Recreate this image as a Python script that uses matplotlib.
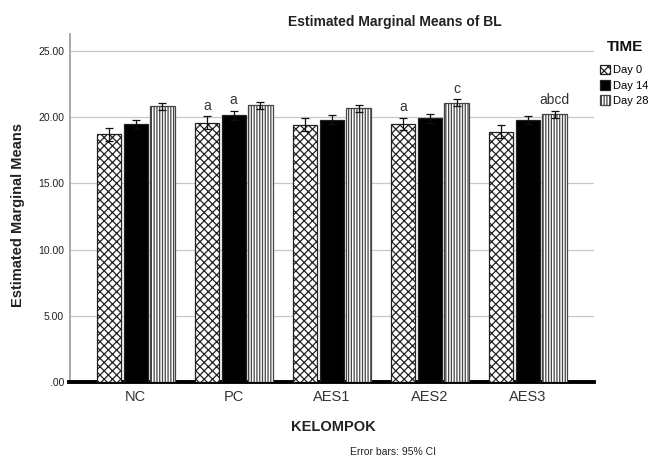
import matplotlib
matplotlib.use("Agg")
import matplotlib.pyplot as plt
import numpy as np
from matplotlib.patches import Patch

plt.rcParams['font.family'] = ['Liberation Sans', 'DejaVu Sans']
plt.rcParams['hatch.linewidth'] = 0.9

groups = ["NC", "PC", "AES1", "AES2", "AES3"]
series = ["Day 0", "Day 14", "Day 28"]
day0 = [18.71, 19.57, 19.42, 19.49, 18.90]
day14 = [19.47, 20.15, 19.80, 19.90, 19.75]
day28 = [20.81, 20.90, 20.66, 21.10, 20.23]
err0 = [0.50, 0.48, 0.48, 0.48, 0.49]
err14 = [0.33, 0.33, 0.33, 0.33, 0.30]
err28 = [0.29, 0.26, 0.27, 0.24, 0.27]
labels0 = ["", "a", "", "a", ""]
labels14 = ["", "a", "", "", ""]
labels28 = ["", "", "", "c", "abcd"]
yticks = [0, 5, 10, 15, 20, 25]
yticklabels = [".00", "5.00", "10.00", "15.00", "20.00", "25.00"]

fig = plt.figure(figsize=(6.51, 4.61), dpi=100)
ax = fig.add_axes([69.5/651, 1-382/461, (594-69.5)/651, (382-34)/461])

x = np.arange(len(groups))
off = 0.273
w = 0.248
styles = [
    dict(facecolor="white", hatch="xxxx", edgecolor="#222222"),
    dict(facecolor="black", hatch=None, edgecolor="#222222"),
    dict(facecolor="white", hatch="||||||", edgecolor="#444444"),
]
vals = [day0, day14, day28]
errs = [err0, err14, err28]
labs = [labels0, labels14, labels28]
for i in range(3):
    pos = x + (i - 1) * off
    ax.bar(pos, vals[i], width=w, linewidth=0.9, zorder=3, **styles[i])
    ax.errorbar(pos, vals[i], yerr=errs[i], fmt="none", ecolor="#111111",
                elinewidth=0.9, capsize=3.2, capthick=0.9, zorder=4)
    for p, v, e, t in zip(pos, vals[i], errs[i], labs[i]):
        if t:
            ax.text(p, v + e + 0.25, t, ha="center", va="bottom",
                    fontsize=10, color="#333333")

ax.set_xlim(-0.675, 4.675)
ax.set_ylim(0, 26.28)
ax.set_yticks(yticks)
ax.set_yticklabels(yticklabels, fontsize=7.5, color="#222222")
ax.set_xticks(x)
ax.set_xticklabels(groups, fontsize=10.5, color="#333333")
ax.tick_params(axis="x", length=0, pad=6)
ax.tick_params(axis="y", length=0, pad=4)
ax.grid(axis="y", color="#c8c8c8", linewidth=0.9, zorder=0)
ax.set_axisbelow(True)
for s in ["top", "right"]:
    ax.spines[s].set_visible(False)
ax.spines["left"].set_color("#999999")
ax.spines["left"].set_linewidth(1.2)
ax.spines["bottom"].set_color("black")
ax.spines["bottom"].set_linewidth(2.8)

fig.text(395/651, 1-22/461, "Estimated Marginal Means of BL", ha="center",
         va="center", fontsize=10, fontweight="bold", color="#222222")
fig.text(18/651, 1-215/461, "Estimated Marginal Means", rotation=90,
         ha="center", va="center", fontsize=10.5, fontweight="bold", color="#222222")
fig.text(333/651, 1-427/461, "KELOMPOK", ha="center", va="center",
         fontsize=10.5, fontweight="bold", color="#222222")
fig.text(393/651, 1-452/461, "Error bars: 95% CI", ha="center", va="center",
         fontsize=7.5, color="#222222")
fig.text(625/651, 1-47/461, "TIME", ha="center", va="center",
         fontsize=11, fontweight="bold", color="#111111")

handles = [Patch(linewidth=0.9, **styles[i]) for i in range(3)]
leg = fig.legend(handles, series, loc="upper left",
                 bbox_to_anchor=(592/651, 1-57/461), frameon=False,
                 fontsize=8, handlelength=0.95, handleheight=0.95,
                 handletextpad=0.25, labelspacing=0.42, borderpad=0.2)

fig.savefig("out.png", dpi=100)
